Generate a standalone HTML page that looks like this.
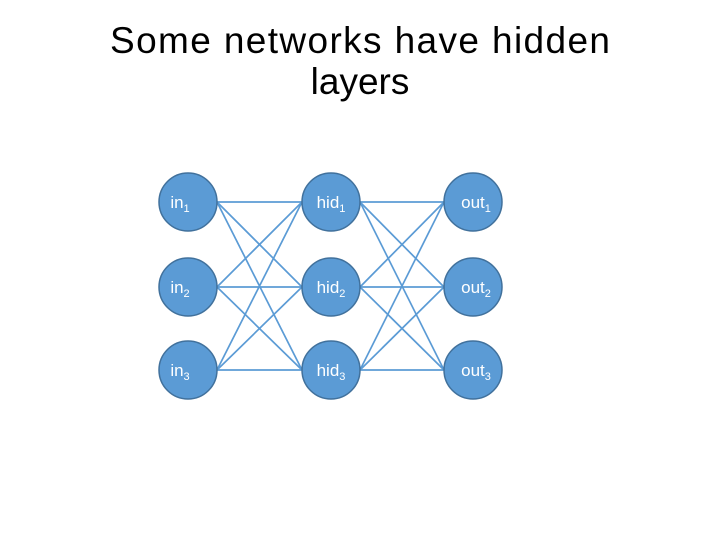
<!DOCTYPE html>
<html><head><meta charset="utf-8"><style>
html,body{margin:0;padding:0;background:#fff;}
body{width:720px;height:540px;overflow:hidden;}
</style></head><body>
<svg width="720" height="540" xmlns="http://www.w3.org/2000/svg" font-family="Liberation Sans, Arial, sans-serif">
<text x="110" y="53" font-size="37" textLength="500" lengthAdjust="spacing" fill="#000">Some networks have hidden</text>
<text x="360" y="94" font-size="37" text-anchor="middle" fill="#000">layers</text>
<g stroke="#5b9bd5" stroke-width="1.7">
<line x1="217" y1="202" x2="302" y2="202"/><line x1="217" y1="202" x2="302" y2="287"/><line x1="217" y1="202" x2="302" y2="370"/>
<line x1="217" y1="287" x2="302" y2="202"/><line x1="217" y1="287" x2="302" y2="287"/><line x1="217" y1="287" x2="302" y2="370"/>
<line x1="217" y1="370" x2="302" y2="202"/><line x1="217" y1="370" x2="302" y2="287"/><line x1="217" y1="370" x2="302" y2="370"/>
<line x1="360" y1="202" x2="444" y2="202"/><line x1="360" y1="202" x2="444" y2="287"/><line x1="360" y1="202" x2="444" y2="370"/>
<line x1="360" y1="287" x2="444" y2="202"/><line x1="360" y1="287" x2="444" y2="287"/><line x1="360" y1="287" x2="444" y2="370"/>
<line x1="360" y1="370" x2="444" y2="202"/><line x1="360" y1="370" x2="444" y2="287"/><line x1="360" y1="370" x2="444" y2="370"/>
</g>
<g fill="#5b9bd5" stroke="#41719c" stroke-width="1.5">
<circle cx="188" cy="202" r="29"/><circle cx="188" cy="287" r="29"/><circle cx="188" cy="370" r="29"/>
<circle cx="331" cy="202" r="29"/><circle cx="331" cy="287" r="29"/><circle cx="331" cy="370" r="29"/>
<circle cx="473" cy="202" r="29"/><circle cx="473" cy="287" r="29"/><circle cx="473" cy="370" r="29"/>
</g>
<g fill="#fff" font-size="17">
<text x="180" y="208" text-anchor="middle">in<tspan font-size="11" dy="4">1</tspan></text>
<text x="180" y="293" text-anchor="middle">in<tspan font-size="11" dy="4">2</tspan></text>
<text x="180" y="376" text-anchor="middle">in<tspan font-size="11" dy="4">3</tspan></text>
<text x="331" y="208" text-anchor="middle">hid<tspan font-size="11" dy="4">1</tspan></text>
<text x="331" y="293" text-anchor="middle">hid<tspan font-size="11" dy="4">2</tspan></text>
<text x="331" y="376" text-anchor="middle">hid<tspan font-size="11" dy="4">3</tspan></text>
<text x="476" y="208" text-anchor="middle">out<tspan font-size="11" dy="4">1</tspan></text>
<text x="476" y="293" text-anchor="middle">out<tspan font-size="11" dy="4">2</tspan></text>
<text x="476" y="376" text-anchor="middle">out<tspan font-size="11" dy="4">3</tspan></text>
</g>
</svg>
</body></html>
